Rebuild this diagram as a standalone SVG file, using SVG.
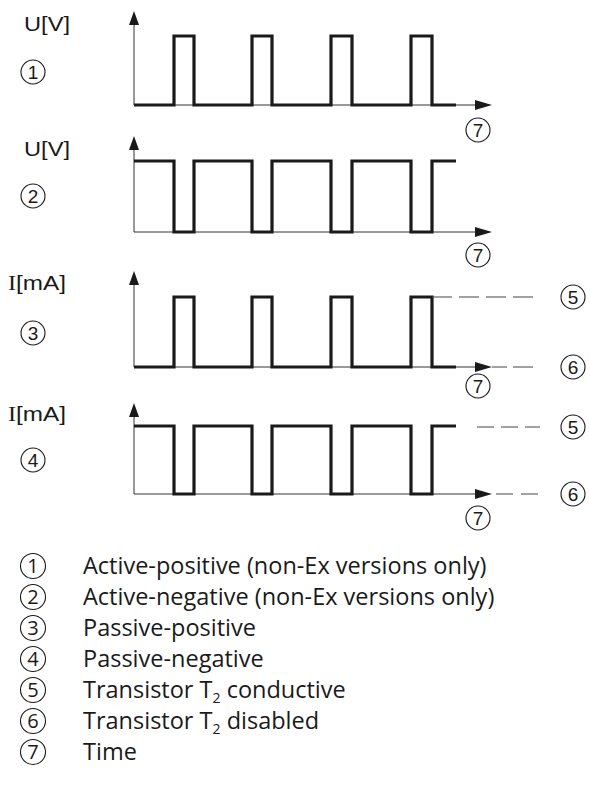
<svg xmlns="http://www.w3.org/2000/svg" width="590" height="812" viewBox="0 0 590 812">
<style>
.axis{fill:none;stroke:#333;stroke-width:1}
.sig{fill:none;stroke:#1a1a1a;stroke-width:3.2;stroke-linejoin:miter}
.dash{fill:none;stroke:#444;stroke-width:1;stroke-dasharray:20 7}
.circ{fill:none;stroke:#1a1a1a;stroke-width:1.1}
.num{font-family:"Liberation Sans",Arial,sans-serif;font-size:19px;fill:#1a1a1a;text-anchor:middle}
.lnum{font-family:"Open Sans","Noto Sans",sans-serif;font-size:20px;fill:#1a1a1a;text-anchor:middle}
.lab{font-family:"Liberation Sans",Arial,sans-serif;font-size:21px;fill:#1a1a1a}
.leg{font-family:"Open Sans","Noto Sans",sans-serif;font-size:23.5px;fill:#1a1a1a}
.head{fill:#1a1a1a}
</style>
<defs>
<g id="c7"><circle class="circ" r="12"/><text class="num" y="7">7</text></g>
</defs>

<g id="chart1">
<text class="lab" x="24" y="31" textLength="46" lengthAdjust="spacingAndGlyphs">U[V]</text>
<circle class="circ" cx="33" cy="72" r="12"/><text class="num" x="33" y="79">1</text>
<path class="axis" d="M134,105 V20 M134,105 H480"/>
<polygon class="head" points="134,11 129,25 139,25"/>
<polygon class="head" points="492,105 475,100 475,110"/>
<path class="sig" d="M134,105 H174 V36 H194 V105 H252 V36 H272 V105 H331 V36 H352 V105 H411 V36 H432 V105 H456"/>
<use href="#c7" x="478" y="130"/>
</g>

<g id="chart2">
<text class="lab" x="24" y="156" textLength="46" lengthAdjust="spacingAndGlyphs">U[V]</text>
<circle class="circ" cx="33" cy="196" r="12"/><text class="num" x="33" y="203">2</text>
<path class="axis" d="M134,232 V145 M134,232 H480"/>
<polygon class="head" points="134,136 129,150 139,150"/>
<polygon class="head" points="492,232 475,227 475,237"/>
<path class="sig" d="M134,161 H174 V232 H194 V161 H252 V232 H272 V161 H331 V232 H352 V161 H411 V232 H432 V161 H456"/>
<use href="#c7" x="478" y="255"/>
</g>

<g id="chart3">
<text class="lab" x="8" y="290" textLength="58" lengthAdjust="spacingAndGlyphs"><tspan font-family="Liberation Serif,serif">I</tspan>[mA]</text>
<circle class="circ" cx="33" cy="333" r="12"/><text class="num" x="33" y="340">3</text>
<path class="axis" d="M134,367 V280 M134,367 H480"/>
<polygon class="head" points="134,271 129,285 139,285"/>
<polygon class="head" points="492,367 475,362 475,372"/>
<path class="sig" d="M134,367 H174 V297 H194 V367 H252 V297 H272 V367 H331 V297 H352 V367 H411 V297 H432 V367 H456"/>
<path class="dash" d="M432,297 H533"/>
<path class="dash" d="M492,367 H533" style="stroke-dasharray:15 6 20 7"/>
<use href="#c7" x="478" y="386"/>
<circle class="circ" cx="573" cy="297" r="12"/><text class="num" x="573" y="304">5</text>
<circle class="circ" cx="573" cy="367" r="12"/><text class="num" x="573" y="374">6</text>
</g>

<g id="chart4">
<text class="lab" x="8" y="421" textLength="58" lengthAdjust="spacingAndGlyphs"><tspan font-family="Liberation Serif,serif">I</tspan>[mA]</text>
<circle class="circ" cx="33" cy="460" r="12"/><text class="num" x="33" y="467">4</text>
<path class="axis" d="M134,494 V412 M134,494 H480"/>
<polygon class="head" points="134,403 129,417 139,417"/>
<polygon class="head" points="492,494 475,489 475,499"/>
<path class="sig" d="M134,426 H174 V494 H194 V426 H252 V494 H272 V426 H331 V494 H352 V426 H411 V494 H432 V426 H456"/>
<path class="dash" d="M477,427 H540" style="stroke-dasharray:17 7"/>
<path class="dash" d="M496,494 H540" style="stroke-dasharray:17 8"/>
<use href="#c7" x="478" y="518"/>
<circle class="circ" cx="573" cy="427" r="12"/><text class="num" x="573" y="434">5</text>
<circle class="circ" cx="573" cy="494" r="12"/><text class="num" x="573" y="501">6</text>
</g>

<g id="legend">
<circle class="circ" cx="33" cy="566" r="12.5"/><text class="lnum" x="33" y="573">1</text>
<text class="leg" x="83" y="574">Active-positive (non-Ex versions only)</text>
<circle class="circ" cx="33" cy="597" r="12.5"/><text class="lnum" x="33" y="604">2</text>
<text class="leg" x="83" y="605">Active-negative (non-Ex versions only)</text>
<circle class="circ" cx="33" cy="628" r="12.5"/><text class="lnum" x="33" y="635">3</text>
<text class="leg" x="83" y="636">Passive-positive</text>
<circle class="circ" cx="33" cy="659" r="12.5"/><text class="lnum" x="33" y="666">4</text>
<text class="leg" x="83" y="667">Passive-negative</text>
<circle class="circ" cx="33" cy="690" r="12.5"/><text class="lnum" x="33" y="697">5</text>
<text class="leg" x="83" y="698">Transistor T<tspan font-size="14" dy="5">2</tspan><tspan dy="-5"> conductive</tspan></text>
<circle class="circ" cx="33" cy="721" r="12.5"/><text class="lnum" x="33" y="728">6</text>
<text class="leg" x="83" y="729">Transistor T<tspan font-size="14" dy="5">2</tspan><tspan dy="-5"> disabled</tspan></text>
<circle class="circ" cx="33" cy="752" r="12.5"/><text class="lnum" x="33" y="759">7</text>
<text class="leg" x="83" y="760">Time</text>
</g>
</svg>
